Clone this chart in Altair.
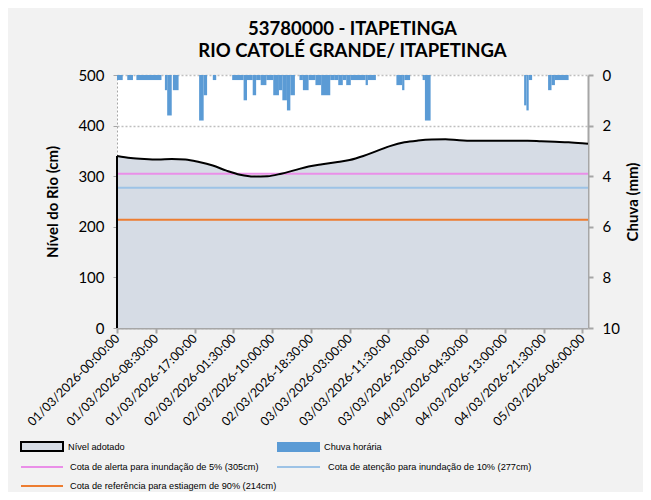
import altair as alt
import pandas as pd

# ---------------- data ----------------
title_lines = ["53780000 - ITAPETINGA", "RIO CATOLÉ GRANDE/ ITAPETINGA"]
start_time = "2026-03-01T00:00:00Z"
x_end_hours = 103.25

# river level (cm), hours after 01/03/2026 00:00
level_hours = [0, 3, 6, 9, 12, 15, 18, 21, 24, 27, 30, 33, 36, 39, 42, 45, 48, 51,
               54, 57, 60, 63, 66, 69, 72, 75, 78, 81, 84, 87, 90, 93, 96, 99, 102, 103.25]
level_cm = [340, 336, 334, 333, 334, 333, 328, 321, 311, 303, 299.5, 300, 305, 312,
            319, 323.5, 327.5, 332, 340, 350, 360, 367, 370.5, 372.5, 373, 371, 370,
            370, 370, 370, 370, 369, 368, 367, 365, 364]

# hourly rain (mm) as intervals, hours after 01/03/2026 00:00
rain_start_h = [0, 2.25, 4.25, 10.5, 11, 12.25, 18, 19, 21, 25.25, 27.75, 28.5, 29.75,
                30.5, 31.5, 32.75, 34.25, 35.5, 36.25, 37.25, 38, 40, 40.75, 42, 43.5,
                44.75, 46.75, 47.75, 48.5, 49.5, 50.25, 51.25, 54.5, 55, 61.25, 62.5, 63,
                67, 67.5, 89.25, 89.75, 90.25, 94.5, 95.25, 96]
rain_end_h = [1.25, 3.5, 9.75, 11, 12, 13.5, 19, 19.75, 21.75, 27.75, 28.5, 29.75, 30.5,
              31.5, 32.75, 34.25, 35.5, 36.25, 37.25, 38, 39, 40.75, 42, 43.5, 44.75,
              46.75, 47.75, 48.5, 49.5, 50.25, 51.25, 54.5, 55, 56.75, 62.5, 63, 64.25,
              67.5, 68.75, 89.75, 90.25, 91, 95.25, 96, 99]
rain_mm = [0.2, 0.2, 0.2, 0.6, 1.6, 0.6, 1.8, 0.8, 0.2, 0.2, 1.0, 0.2, 0.8,
           0.2, 0.4, 0.2, 0.8, 0.6, 1.0, 1.4, 0.8, 0.2, 0.6, 0.2, 0.4,
           0.8, 0.2, 0.2, 0.4, 0.2, 0.4, 0.2, 0.4, 0.2, 0.4, 0.6, 0.2,
           0.2, 1.8, 1.2, 1.4, 0.2, 0.6, 0.4, 0.2]

threshold_labels = ["Cota de alerta para inundação de 5% (305cm)",
                    "Cota de atenção para inundação de 10% (277cm)",
                    "Cota de referência para estiagem de 90% (214cm)"]
threshold_cm = [305, 277, 214]
threshold_colors = ["#ea8fe8", "#9dc3e6", "#ed7d31"]

level_label = "Nível adotado"
rain_label = "Chuva horária"
x_label_hours = [0, 8.5, 17, 25.5, 34, 42.5, 51, 59.5, 68, 76.5, 85, 93.5, 102]
y_left_ticks = [0, 100, 200, 300, 400, 500]
y_right_ticks = [0, 2, 4, 6, 8, 10]

# ---------------- styling ----------------
AREA_FILL = "#d6dce5"
RAIN_BLUE = "#5b9bd5"
AXIS_GRAY = "#a6a6a6"
FONT = "Lato"
LEG_FONT = "Liberation Sans"
LEG_SIZE = 9.2

t0 = pd.Timestamp(start_time).value // 10**6
HOUR = 3600000

level_df = pd.DataFrame({"t": [t0 + h * HOUR for h in level_hours], "level": level_cm})
rain_df = pd.DataFrame({"start": [t0 + h * HOUR for h in rain_start_h],
                        "end": [t0 + h * HOUR for h in rain_end_h],
                        "mm": rain_mm})
thr_df = pd.DataFrame({"label": threshold_labels, "cm": threshold_cm})

x_axis = alt.Axis(values=[t0 + h * HOUR for h in x_label_hours],
                  labelExpr="utcFormat(datum.value, '%d/%m/%Y-%H:%M:%S')",
                  labelAngle=-45, labelAlign="right", labelBaseline="middle",
                  labelFont=FONT, labelFontSize=12.5, labelColor="black",
                  labelOverlap=False, labelFlush=False, labelPadding=3,
                  tickSize=5, tickColor=AXIS_GRAY, tickWidth=2,
                  domainColor=AXIS_GRAY, domainWidth=2, grid=False, title=None)
x_scale = alt.Scale(type="utc", domain=[t0, t0 + x_end_hours * HOUR], nice=False)
left_scale = alt.Scale(domain=[0, 500], nice=False)


def xenc(field):
    return alt.X(f"{field}:T", scale=x_scale, axis=x_axis)


area = alt.Chart(level_df).mark_area(color=AREA_FILL, opacity=1, interpolate="monotone").encode(
    x=xenc("t"),
    y=alt.Y("level:Q", scale=left_scale,
            axis=alt.Axis(values=y_left_ticks, title="Nível do Rio  (cm)",
                          titleFont=FONT, titleFontSize=15, titleFontWeight="bold",
                          titleColor="black", titlePadding=17,
                          labelFont=FONT, labelFontSize=15, labelColor="black",
                          labelPadding=9, tickSize=4, tickColor=AXIS_GRAY,
                          domainColor=AXIS_GRAY, domainDash=[2, 2],
                          grid=True, gridDash=[2, 2], gridColor="#bfbfbf", gridWidth=1.5)),
)

rules = alt.Chart(thr_df).mark_rule(strokeWidth=2).encode(
    y=alt.Y("cm:Q", scale=left_scale, axis=None),
    color=alt.Color("label:N", scale=alt.Scale(domain=threshold_labels, range=threshold_colors),
                    legend=None),
)

line = alt.Chart(level_df).mark_line(color="black", strokeWidth=2, interpolate="monotone").encode(
    x=xenc("t"),
    y=alt.Y("level:Q", scale=left_scale, axis=None),
)

edge = alt.Chart(level_df.iloc[[0]]).mark_rule(color="black", strokeWidth=2).encode(
    x=xenc("t"),
    y=alt.Y("level:Q", scale=left_scale, axis=None),
    y2=alt.Y2(datum=0),
)

rain = alt.Chart(rain_df).mark_rect(color=RAIN_BLUE).encode(
    x=xenc("start"),
    x2="end:T",
    y=alt.Y("mm:Q", scale=alt.Scale(domain=[0, 10], reverse=True, nice=False),
            axis=alt.Axis(orient="right", values=y_right_ticks, title="Chuva (mm)",
                          titleAngle=270, titleFont=FONT, titleFontSize=15,
                          titleFontWeight="bold", titleColor="black", titlePadding=21,
                          labelFont=FONT, labelFontSize=15, labelColor="black",
                          labelPadding=9, tickSize=5, tickColor=AXIS_GRAY, tickWidth=2,
                          domainColor=AXIS_GRAY, domainWidth=2, grid=False)),
    y2=alt.Y2(datum=0),
)

# ---------------- manual legend (positions relative to plot origin) ----------------
dummy = alt.Data(values=[{"k": 0}])
PX0, PY0 = 117, 75  # plot origin in page pixels


def lx(px):
    return px - PX0


def ly(py):
    return py - PY0


leg = []
leg.append(alt.Chart(dummy).mark_rect(fill=AREA_FILL, stroke="black", strokeWidth=2).encode(
    x=alt.value(lx(21)), x2=alt.value(lx(63)), y=alt.value(ly(442)), y2=alt.value(ly(451))))
leg.append(alt.Chart(dummy).mark_rect(fill=RAIN_BLUE).encode(
    x=alt.value(lx(277)), x2=alt.value(lx(320)), y=alt.value(ly(442)), y2=alt.value(ly(452))))
leg.append(alt.Chart(dummy).mark_text(text=level_label, align="left", baseline="middle",
                                      font=LEG_FONT, fontSize=LEG_SIZE, color="black").encode(
    x=alt.value(lx(68)), y=alt.value(ly(447))))
leg.append(alt.Chart(dummy).mark_text(text=rain_label, align="left", baseline="middle",
                                      font=LEG_FONT, fontSize=LEG_SIZE, color="black").encode(
    x=alt.value(lx(324)), y=alt.value(ly(447))))
row_pos = [(21, 63, 70, 467), (277, 320, 328, 467), (21, 63, 70, 486)]
for (xa, xb, xt, yy), lab, col in zip(row_pos, threshold_labels, threshold_colors):
    leg.append(alt.Chart(dummy).mark_rule(color=col, strokeWidth=2).encode(
        x=alt.value(lx(xa)), x2=alt.value(lx(xb)), y=alt.value(ly(yy))))
    leg.append(alt.Chart(dummy).mark_text(text=lab, align="left", baseline="middle",
                                          font=LEG_FONT, fontSize=LEG_SIZE, color="black").encode(
        x=alt.value(lx(xt)), y=alt.value(ly(yy))))

chart = alt.layer(area, rules, line, edge, rain, *leg).resolve_scale(
    y="independent"
).properties(
    width=471, height=253,
    title=alt.TitleParams(text=title_lines, font=FONT, fontSize=18.5, fontWeight="bold",
                          color="black", anchor="middle", frame="group", baseline="bottom",
                          lineHeight=22, offset=6, dy=17),
    padding={"left": 109, "top": 67, "right": 55, "bottom": 164},
    autosize=alt.AutoSizeParams(type="none"),
    background="#f2f2f2",
).configure_view(fill="white", stroke=None)

chart.save("out.html", embed_options={"renderer": "svg", "actions": False})
